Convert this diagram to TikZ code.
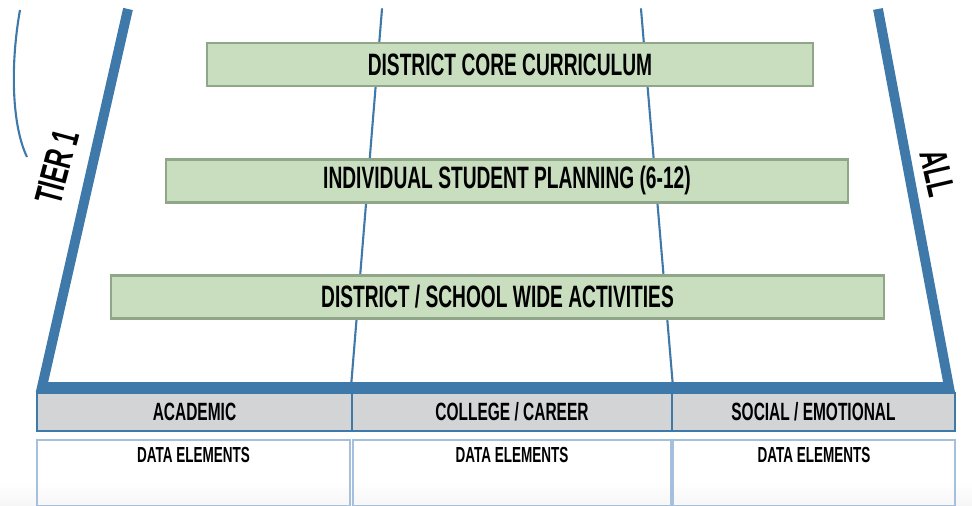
\documentclass[tikz,border=0pt]{standalone}
\usepackage{fontspec}
\setmainfont{Liberation Sans}[FakeStretch=0.62]
\usepackage{tikz}
\usepackage{tkz-euclide}

\definecolor{tierblue}{RGB}{62,121,170}
\definecolor{actgreen}{RGB}{200,222,191}
\definecolor{actedge}{RGB}{143,166,137}
\definecolor{domgray}{RGB}{211,212,214}
\definecolor{dataedge}{RGB}{165,192,220}

\tikzset{
  activity/.style={draw=actedge, line width=0.8pt, fill=actgreen, inner sep=0pt,
    minimum height=0.43cm, font=\bfseries\fontsize{8.8}{9}\selectfont},
  domaincell/.style={draw=tierblue, line width=0.6pt, fill=domgray, inner sep=0pt,
    minimum height=0.38cm, font=\bfseries\fontsize{7.1}{8}\selectfont},
  datacell/.style={draw=dataedge, line width=0.6pt, inner sep=0pt, minimum height=0.66cm},
  datatext/.style={anchor=north, inner sep=0pt, font=\bfseries\fontsize{6.2}{7}\selectfont},
  sidetext/.style={inner sep=0pt, font=\bfseries\fontsize{11}{12}\selectfont}
}

\begin{document}
\begin{tikzpicture}
      \useasboundingbox (0,0) rectangle (9.72,5.06);
      \fill[top color=white, bottom color=gray!7] (0,0) rectangle (9.72,0.25);

      \tkzDefPoint(1.28,4.97){A}
      \tkzDefPoint(0.42,1.19){B}
      \tkzDefPoint(9.49,1.19){C}
      \tkzDefPoint(8.78,4.97){D}
      \tkzDefPoint(3.82,4.97){E}
      \tkzDefPoint(3.51,1.19){F}
      \tkzDefPoint(6.41,4.97){G}
      \tkzDefPoint(6.73,1.19){H}

      \tkzDrawSegments[color=tierblue, line width=0.6pt](E,F G,H)
      \draw[color=tierblue, line width=2.8pt, line join=miter] (A) -- (B) -- (C) -- (D);

      \draw[color=tierblue, line width=0.6pt] (0.20,4.96) .. controls (0.10,4.40) and (0.12,3.80) .. (0.27,3.49);
      \node[sidetext, rotate=75] (tier) at (0.57,3.39) {TIER 1};
      \node[sidetext, rotate=-77] (all) at (9.38,3.33) {ALL};

      \node[activity, minimum width=6.06cm] (core) at (5.10,4.415) {DISTRICT CORE CURRICULUM};
      \node[activity, minimum width=6.82cm] (isp) at (5.07,3.25) {INDIVIDUAL STUDENT PLANNING (6-12)};
      \node[activity, minimum width=7.73cm] (wide) at (4.975,2.09) {DISTRICT / SCHOOL WIDE ACTIVITIES};

      \node[domaincell, minimum width=3.15cm] (acad) at (1.945,0.94) {ACADEMIC};
      \node[domaincell, minimum width=3.20cm] (coll) at (5.12,0.94) {COLLEGE / CAREER};
      \node[domaincell, minimum width=2.83cm] (soc) at (8.135,0.94) {SOCIAL / EMOTIONAL};

      \node[datacell, minimum width=3.13cm] (data1) at (1.935,0.33) {};
      \node[datacell, minimum width=3.18cm] (data2) at (5.12,0.33) {};
      \node[datacell, minimum width=2.82cm] (data3) at (8.14,0.33) {};
      \node[datatext] (dt1) at (data1.north) [yshift=-0.08cm] {DATA ELEMENTS};
      \node[datatext] (dt2) at (data2.north) [yshift=-0.08cm] {DATA ELEMENTS};
      \node[datatext] (dt3) at (data3.north) [yshift=-0.08cm] {DATA ELEMENTS};
     \end{tikzpicture}
\end{document}
